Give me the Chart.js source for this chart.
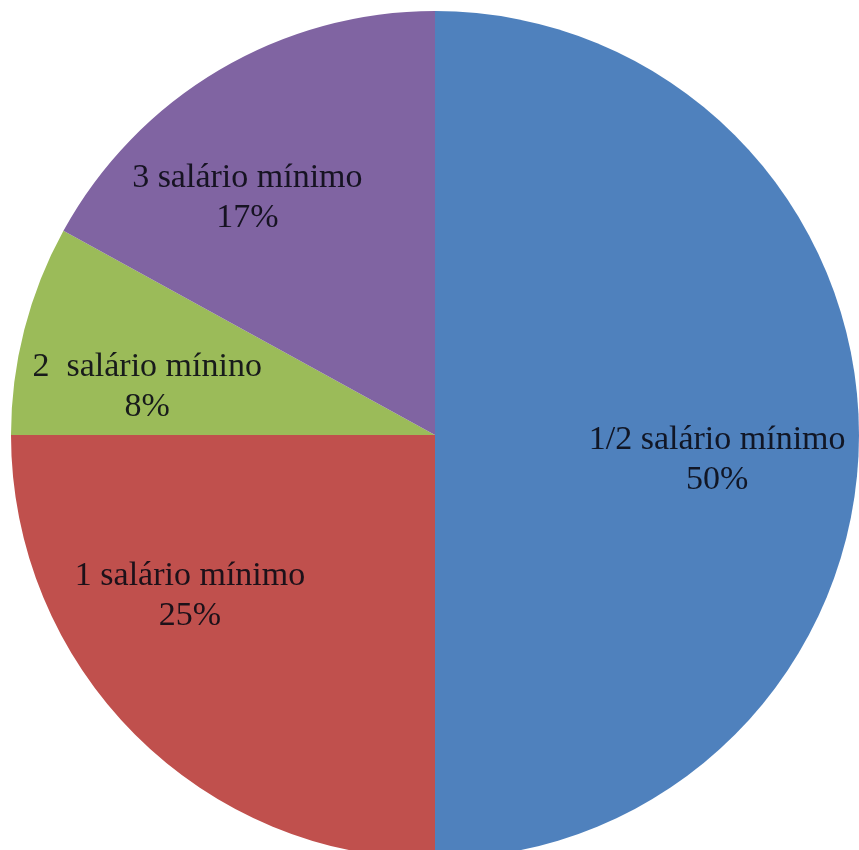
<!DOCTYPE html>
<html>
<head>
<meta charset="utf-8">
<script src="https://cdn.jsdelivr.net/npm/chart.js@4"></script>
<style>
  html, body { margin: 0; padding: 0; background: #ffffff; overflow: hidden; width: 859px; height: 850px; }
  #wrap { position: absolute; left: 11px; top: 11px; width: 848px; height: 848px; }
</style>
</head>
<body>
<div id="wrap"><canvas id="c"></canvas></div>
<script>
// ---- data ----
const categories = ['1/2 salário mínimo', '1 salário mínimo', '2  salário mínino', '3 salário mínimo'];
const values = [50, 25, 8, 17];

// ---- style ----
const sliceColors = ['#4F81BD', '#C0504D', '#9BBB59', '#8064A2'];
// label placement: fraction along the slice's arc, fraction of radius
const labelPlacement = [
  { along: 0.528, radial: 0.668 },
  { along: 0.629, radial: 0.692 },
  { along: 0.326, radial: 0.688 },
  { along: 0.373, radial: 0.713 }
];
const labelFont = '34px "Liberation Serif", "Times New Roman", serif';
const lineGap = 40;

const total = values.reduce((a, b) => a + b, 0);

const labelPlugin = {
  id: 'sliceLabels',
  afterDatasetsDraw(chart) {
    const ctx = chart.ctx;
    const meta = chart.getDatasetMeta(0);
    ctx.save();
    ctx.font = labelFont;
    ctx.fillStyle = 'rgba(10,10,20,0.9)';
    ctx.textAlign = 'center';
    ctx.textBaseline = 'middle';
    meta.data.forEach((arc, i) => {
      const p = arc.getProps(['x', 'y', 'startAngle', 'endAngle', 'outerRadius'], true);
      const pl = labelPlacement[i];
      const a = p.startAngle + pl.along * (p.endAngle - p.startAngle);
      const r = p.outerRadius * pl.radial;
      const cx = p.x + Math.cos(a) * r;
      const cy = p.y + Math.sin(a) * r;
      const pct = Math.round(values[i] / total * 100) + '%';
      ctx.fillText(categories[i], cx, cy - lineGap / 2);
      ctx.fillText(pct, cx, cy + lineGap / 2);
    });
    ctx.restore();
  }
};

new Chart(document.getElementById('c'), {
  type: 'pie',
  data: {
    labels: categories,
    datasets: [{
      data: values,
      backgroundColor: sliceColors,
      borderWidth: 0
    }]
  },
  options: {
    responsive: true,
    maintainAspectRatio: false,
    animation: false,
    layout: { padding: 0 },
    plugins: {
      legend: { display: false },
      tooltip: { enabled: false }
    }
  },
  plugins: [labelPlugin]
});
</script>
</body>
</html>
